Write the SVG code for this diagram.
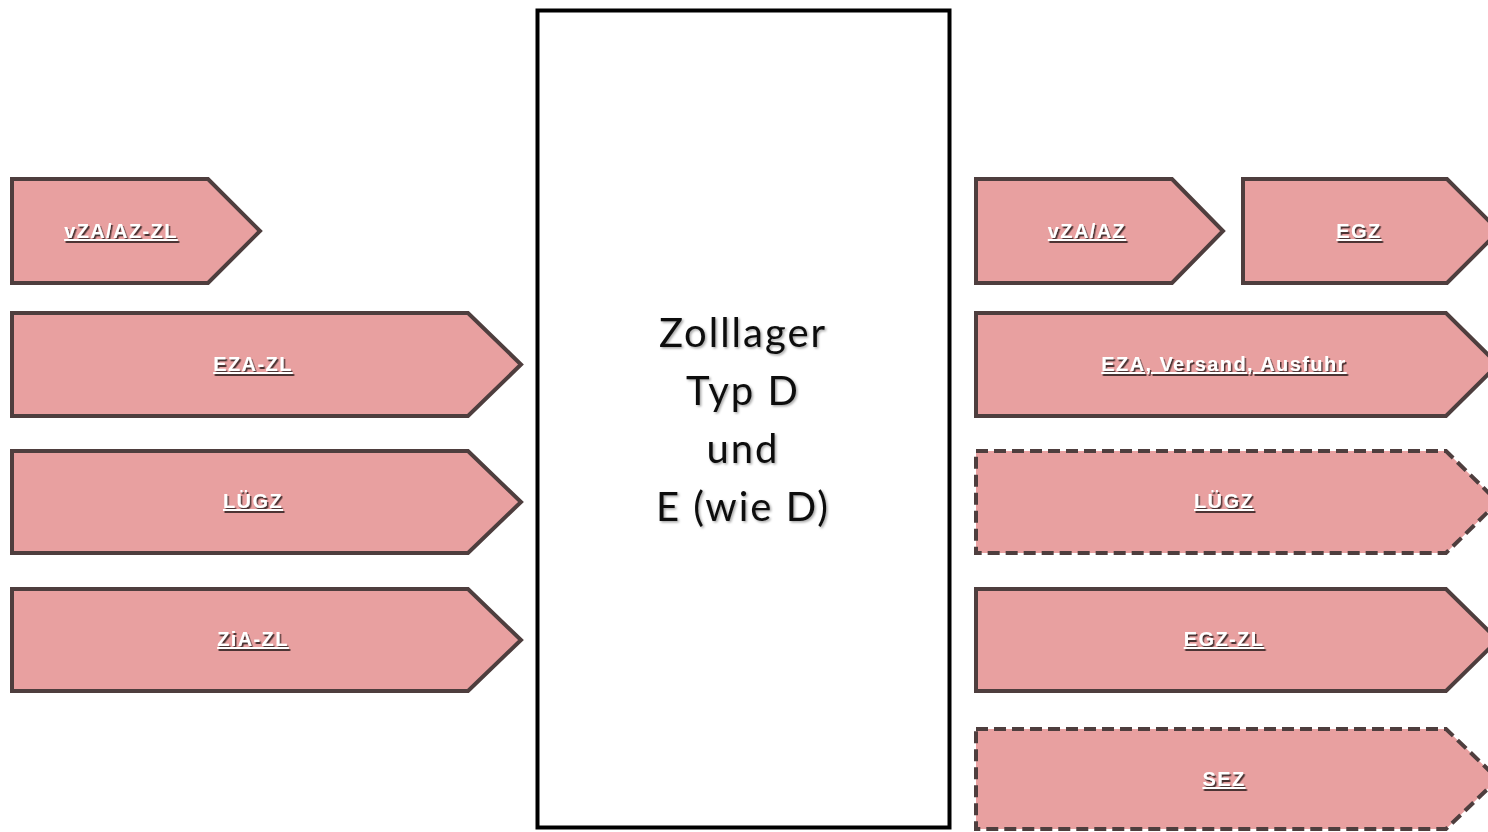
<svg xmlns="http://www.w3.org/2000/svg" width="1488" height="832" viewBox="0 0 1488 832">
<defs>
<style>
.arrow{fill:#E8A0A0;stroke:#4E3E3E;stroke-width:4;stroke-linejoin:miter}
.dash{stroke-dasharray:12 6}
.lbl{font-family:"Liberation Sans",Arial,sans-serif;font-weight:bold;font-size:20px;fill:#FFFFFF;text-anchor:middle;text-decoration:underline;letter-spacing:1.4px;filter:url(#sh)}
.main{font-family:Lato,"Open Sans",sans-serif;font-size:40px;fill:#111111;text-anchor:middle;letter-spacing:2px;filter:url(#sh2)}
</style>
<filter id="sh" x="-20%" y="-50%" width="140%" height="200%">
<feDropShadow dx="1.5" dy="2" stdDeviation="0.6" flood-color="#3a2a2a" flood-opacity="0.9"/>
</filter>
<filter id="sh2" x="-20%" y="-50%" width="140%" height="200%">
<feDropShadow dx="1.5" dy="1.5" stdDeviation="1" flood-color="#000" flood-opacity="0.35"/>
</filter>
</defs>
<rect width="1488" height="832" fill="#FFFFFF"/>
<g id="center">
<rect x="537.5" y="10.5" width="412" height="817" fill="#FFFFFF" stroke="#000000" stroke-width="4"/>
<text class="main" x="743" y="347">Zolllager</text>
<text class="main" x="743" y="405">Typ D</text>
<text class="main" x="743" y="463">und</text>
<text class="main" x="743" y="521">E (wie D)</text>
</g>
<g id="l1">
<path class="arrow" d="M12,179 H208 L260,231 L208,283 H12 Z"/>
<text class="lbl" x="121" y="238">vZA/AZ-ZL</text>
</g>
<g id="l2">
<path class="arrow" d="M12,313 H468 L521,364.5 L468,416 H12 Z"/>
<text class="lbl" x="253" y="371">EZA-ZL</text>
</g>
<g id="l3">
<path class="arrow" d="M12,451 H468 L521,502 L468,553 H12 Z"/>
<text class="lbl" x="253" y="508">LÜGZ</text>
</g>
<g id="l4">
<path class="arrow" d="M12,589 H468 L521,640 L468,691 H12 Z"/>
<text class="lbl" x="253" y="646">ZiA-ZL</text>
</g>
<g id="r1">
<path class="arrow" d="M976,179 H1172 L1223,231 L1172,283 H976 Z"/>
<text class="lbl" x="1087" y="238">vZA/AZ</text>
</g>
<g id="r2">
<path class="arrow" d="M1243,179 H1447 L1499,231 L1447,283 H1243 Z"/>
<text class="lbl" x="1359" y="238">EGZ</text>
</g>
<g id="r3">
<path class="arrow" d="M976,313 H1446 L1498,364.5 L1446,416 H976 Z"/>
<text class="lbl" x="1224" y="371">EZA, Versand, Ausfuhr</text>
</g>
<g id="r4">
<path class="arrow dash" d="M976,451 H1446 L1498,502 L1446,553 H976 Z"/>
<text class="lbl" x="1224" y="508">LÜGZ</text>
</g>
<g id="r5">
<path class="arrow" d="M976,589 H1446 L1498,640 L1446,691 H976 Z"/>
<text class="lbl" x="1224" y="646">EGZ-ZL</text>
</g>
<g id="r6">
<path class="arrow dash" d="M976,729 H1446 L1498,779 L1446,829 H976 Z"/>
<text class="lbl" x="1224" y="786">SEZ</text>
</g>
<g id="connectors"></g>
</svg>
